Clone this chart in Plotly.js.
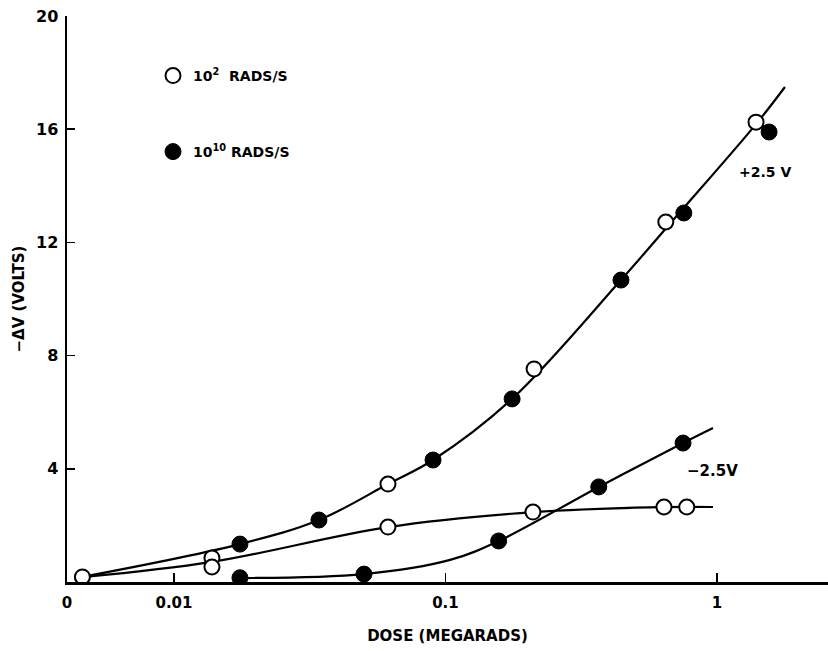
<!DOCTYPE html>
<html>
<head>
<meta charset="utf-8">
<script src="https://cdn.plot.ly/plotly-3.0.1.min.js"></script>
<style>html,body{margin:0;padding:0;background:#fff;}</style>
</head>
<body>
<div id="chart" style="width:828px;height:651px;"></div>
<script>
// Measured points, 10^2 RADS/S (open circles)
const open_dose = [0.0046, 0.0138, 0.0138, 0.0614, 0.0614, 0.212, 0.210, 0.638, 0.774, 0.648, 1.393];
const open_dv   = [0.18,   0.85,   0.53,   3.46,   1.94,   7.53,  2.47,  2.65,  2.65,  12.72, 16.25];
// Measured points, 10^10 RADS/S (filled circles)
const filled_dose = [0.0175, 0.0175, 0.0342, 0.0501, 0.090, 0.157, 0.176, 0.367, 0.443, 0.750, 0.755, 1.556];
const filled_dv   = [1.34,   0.15,   2.19,   0.28,   4.31,  1.45,  6.47,  3.36,  10.67, 4.91,  13.04, 15.9];
// Hand-drawn fitted curves
const plus_dose = [0.0047, 0.0175, 0.0342, 0.0614, 0.090, 0.176, 0.443, 0.700, 1.393, 1.78];
const plus_dv   = [0.2,    1.34,   2.19,   3.46,   4.31,  6.47,  10.67, 12.86, 16.18, 17.49];
const lowopen_dose = [0.0047, 0.0138, 0.0614, 0.210, 0.566, 0.967];
const lowopen_dv   = [0.18,   0.71,   1.94,   2.47,  2.64,  2.65];
const minus_dose = [0.0175, 0.0501, 0.104, 0.157, 0.367, 0.750, 0.967];
const minus_dv   = [0.14,   0.28,   0.78,  1.45,  3.36,  4.91,  5.44];
// Axis ticks
const x_tickvals = [Math.pow(10, -2.394), 0.01, 0.1, 1];
const x_ticktext = ['0', '0.01', '0.1', '1'];
const y_tickvals = [4, 8, 12, 16, 20];
const y_ticktext = ['4', '8', '12', '16', '20'];
const legend_names = ['10<sup>2</sup>  RADS/S', '10<sup>10</sup> RADS/S'];
const curve_labels = ['+2.5 V', '\u22122.5V'];

const FONT = 'DejaVu Sans, sans-serif';
const lineStyle = {color: 'black', width: 2.2, shape: 'spline', smoothing: 1};
const traces = [
  {x: plus_dose, y: plus_dv, mode: 'lines', line: lineStyle, showlegend: false, hoverinfo: 'skip'},
  {x: lowopen_dose, y: lowopen_dv, mode: 'lines', line: lineStyle, showlegend: false, hoverinfo: 'skip'},
  {x: minus_dose, y: minus_dv, mode: 'lines', line: lineStyle, showlegend: false, hoverinfo: 'skip'},
  {x: open_dose, y: open_dv, mode: 'markers', name: legend_names[0], legend: 'legend',
   marker: {symbol: 'circle', size: 15, color: 'white', line: {color: 'black', width: 2}}},
  {x: filled_dose, y: filled_dv, mode: 'markers', name: legend_names[1], legend: 'legend2',
   marker: {symbol: 'circle', size: 16, color: 'black', line: {color: 'black', width: 1}}}
];

const legendCommon = {xanchor: 'left', yanchor: 'middle', bgcolor: 'rgba(0,0,0,0)', borderwidth: 0,
  font: {family: FONT, size: 14, color: 'black', weight: 'bold'}};

const layout = {
  width: 828, height: 651,
  margin: {l: 67, r: 0, t: 16, b: 69},
  paper_bgcolor: 'white', plot_bgcolor: 'white',
  font: {family: FONT, color: 'black', weight: 'bold'},
  showlegend: true,
  legend: Object.assign({x: (153 - 67) / 761, y: (651 - 69 - 76) / 566}, legendCommon),
  legend2: Object.assign({x: (153 - 67) / 761, y: (651 - 69 - 152) / 566}, legendCommon),
  xaxis: {
    type: 'log', range: [-2.394, 0.409], showgrid: false, zeroline: false,
    showline: true, linecolor: 'black', linewidth: 2.5,
    ticks: 'inside', ticklen: 9, tickwidth: 1.5, tickcolor: 'black',
    tickvals: x_tickvals, ticktext: x_ticktext,
    tickfont: {family: FONT, size: 15, weight: 'bold'},
    ticklabelstandoff: 5,
    title: {text: 'DOSE (MEGARADS)', font: {family: FONT, size: 15, weight: 'bold'}, standoff: 20}
  },
  yaxis: {
    range: [0, 20], showgrid: false, zeroline: false,
    showline: true, linecolor: 'black', linewidth: 2.5,
    ticks: 'inside', ticklen: 8, tickwidth: 1.5, tickcolor: 'black',
    tickvals: y_tickvals, ticktext: y_ticktext,
    tickfont: {family: FONT, size: 16, weight: 'bold'},
    ticklabelstandoff: 3,
    title: {text: '\u2212\u0394V (VOLTS)', font: {family: FONT, size: 15, weight: 'bold'}, standoff: 8}
  },
  annotations: [
    {x: Math.log10(1.185), y: 14.49, xref: 'x', yref: 'y', text: curve_labels[0], showarrow: false,
     xanchor: 'left', font: {family: FONT, size: 14, weight: 'bold'}},
    {x: Math.log10(0.762), y: 3.92, xref: 'x', yref: 'y', text: curve_labels[1], showarrow: false,
     xanchor: 'left', font: {family: FONT, size: 15, weight: 'bold'}}
  ]
};

Plotly.newPlot('chart', traces, layout, {displayModeBar: false, staticPlot: true});
</script>
</body>
</html>
